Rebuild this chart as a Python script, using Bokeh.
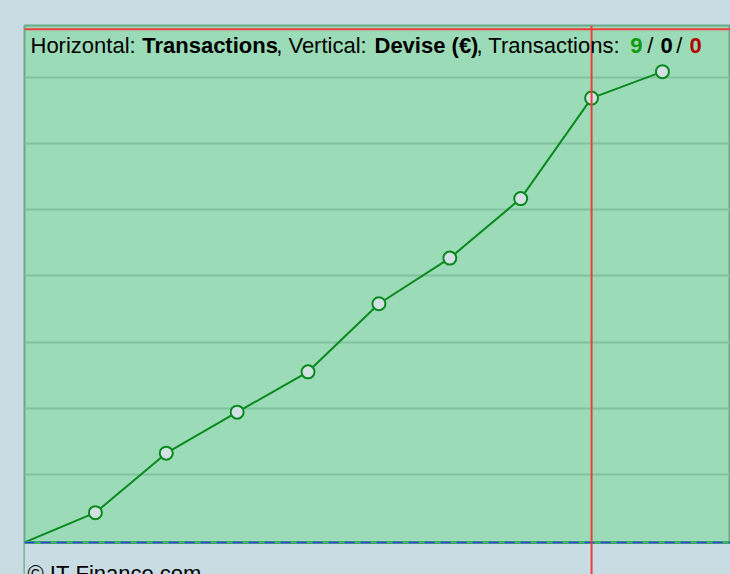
from bokeh.plotting import figure
from bokeh.models import Range1d, Span, BoxAnnotation, Label, FixedTicker, ColumnDataSource
from bokeh.embed import file_html
from bokeh.resources import INLINE

# ---- data ----
trade_index = [0, 1, 2, 3, 4, 5, 6, 7, 8, 9]
balance = [0, 45, 135, 197, 258, 361, 430, 520, 672, 712]
grid_levels = [103, 203, 303, 403, 503, 603, 703]
cursor_x = 8
cursor_y = 776
header_parts = ["Horizontal: ", "Transactions", ", Vertical: ", "Devise (€)",
                ", Transactions: ", "9", "/", "0", "/", "0"]
footer_text = "© IT-Finance.com"

BG = "#c9dce3"
GREEN_AREA = "#9cdbb7"

p = figure(width=730, height=574, output_backend="svg", toolbar_location=None,
           x_range=Range1d(0, 9.96), y_range=Range1d(-48.5, 781.8),
           min_border_left=24, min_border_right=0, min_border_top=25, min_border_bottom=0)
p.border_fill_color = BG
p.background_fill_color = GREEN_AREA
p.outline_line_color = "#6aa98a"
p.outline_line_width = 2
p.xaxis.visible = False
p.yaxis.visible = False
p.xgrid.visible = False
p.ygrid.ticker = FixedTicker(ticks=grid_levels)
p.ygrid.grid_line_color = "#80c29d"
p.ygrid.grid_line_width = 2

# area below the zero line
p.add_layout(BoxAnnotation(top=0, fill_color=BG, fill_alpha=1, line_alpha=0, level="underlay"))

src = ColumnDataSource(dict(x=trade_index, y=balance))
src_pts = ColumnDataSource(dict(x=trade_index[1:], y=balance[1:]))
p.line("x", "y", source=src, line_color="#0a8a1e", line_width=2)
p.scatter("x", "y", source=src_pts, size=13, fill_color="#d3e1e5",
          line_color="#0a8a1e", line_width=2)

# zero line
p.add_layout(Span(location=0, dimension="width", line_color="#3cb066", line_width=3))
p.add_layout(Span(location=0, dimension="width", line_color="#3a3ae6", line_width=1.5,
                  line_dash="10 6"))
# crosshair
p.add_layout(Span(location=cursor_y, dimension="width", line_color="#f03c3c", line_width=2))
p.add_layout(Span(location=cursor_x, dimension="height", line_color="#f03c3c", line_width=2))

# header text (x positions in px from the plot's left edge)
xs = [31, 142.7, 276.7, 375, 477, 630.7, 647.7, 661, 676.7, 690]
bolds = [False, True, False, True, False, True, False, True, False, True]
colors = ["black", "black", "black", "black", "black", "#109a10", "black", "black", "black", "#b00000"]
for t, xx, b, c in zip(header_parts, xs, bolds, colors):
    p.add_layout(Label(x=xx - 25, y=529, x_units="screen", y_units="screen", text=t,
                       text_font="Liberation Sans", text_font_size="22px",
                       text_font_style="bold" if b else "normal", text_color=c,
                       text_baseline="alphabetic"))

p.add_layout(Label(x=28 - 25, y=1, x_units="screen", y_units="screen", text=footer_text,
                   text_font="Liberation Sans", text_font_size="22px", text_color="black",
                   text_baseline="middle"))

html = file_html(p, INLINE)
html = html.replace("</head>", "<style>html,body{margin:0;padding:0;background:%s;overflow:hidden}</style></head>" % BG)
open("out.html", "w").write(html)
